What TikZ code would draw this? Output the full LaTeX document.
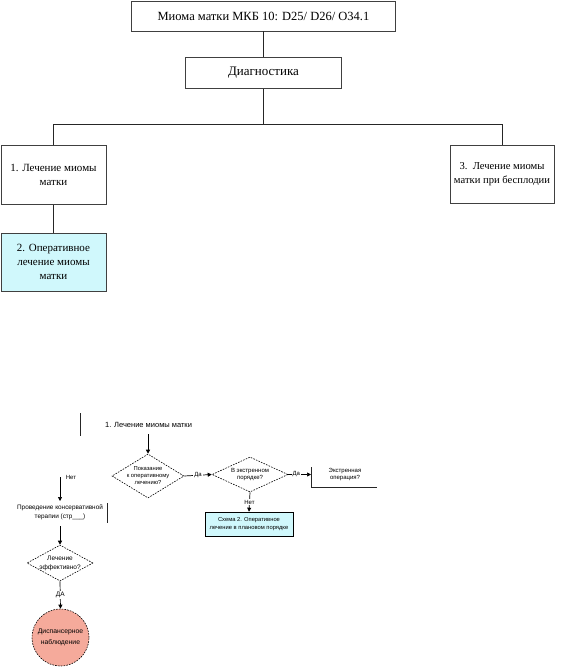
\documentclass[tikz,border=0pt]{standalone}
\usepackage{fontspec}
\setmainfont{Liberation Serif}
\newfontfamily\sansf{Liberation Sans}
\usetikzlibrary{shapes.geometric,arrows.meta}
\definecolor{lcyan}{RGB}{208,248,252}
\definecolor{salmon}{RGB}{245,170,155}
\begin{document}
\begin{tikzpicture}[x=1pt,y=-1pt,
  box/.style={draw=black!75,line width=0.9pt,inner sep=0pt,align=center,font=\fontsize{11}{14}\selectfont},
  ln/.style={draw=black!85,line width=0.8pt},
  dm/.style={diamond,draw=black,dash pattern=on 1.6pt off 1.2pt,line width=0.6pt,inner sep=0pt},
  sm/.style={font=\sansf\fontsize{6}{7}\selectfont,align=center,inner sep=0pt},
  arr/.style={-{Triangle[length=4pt,width=4pt]},line width=0.7pt,draw=black}]
\useasboundingbox (0,0) rectangle (563,668);
\fill[white] (0,0) rectangle (563,668);
% ---------- top scheme ----------
\node[box,minimum width=264,minimum height=30,font=\fontsize{12.5}{14}\selectfont] (mkb) at (263.5,16) {Миома матки МКБ 10: D25/ D26/ O34.1};
\node[box,minimum width=156,minimum height=31,font=\fontsize{13}{14}\selectfont] (diag) at (263.5,73) {Диагностика};
\node[box,minimum width=105,minimum height=59] (l1) at (53.5,175) {1. Лечение миомы\\матки};
\node[box,minimum width=104,minimum height=58,font=\fontsize{10.6}{14}\selectfont] (l3) at (502,174) {3.\enspace Лечение миомы\\матки при бесплодии};
\node[box,fill=lcyan,minimum width=105,minimum height=58] (l2) at (53.5,262) {2. Оперативное\\лечение миомы\\матки};
\coordinate (j) at (263.5,124);
\coordinate (jl) at (53.5,124);
\coordinate (jr) at (502,124);
\draw[ln] (mkb.south) -- (diag.north);
\draw[ln] (diag.south) -- (j);
\draw[ln] (l1.north) -- (jl) -- (jr) -- (l3.north);
\draw[ln] (l1.south) -- (l2.north);
% ---------- bottom scheme ----------
\coordinate (v1a) at (80,413);
\coordinate (v1b) at (80,436);
\draw[ln] (v1a) -- (v1b);
\node[font=\sansf\fontsize{7.5}{9}\selectfont,anchor=west,inner sep=0pt] (t1) at (105,425) {1. Лечение миомы матки};
\coordinate (a1) at (148,434);
\node[dm,minimum width=72,minimum height=44] (d1) at (148,476) {};
\node[sm,font=\sansf\fontsize{5.8}{7}\selectfont] (d1t) at (d1.center) {Показание\\к оперативному\\лечению?};
\draw[arr] (a1) -- (d1.north);
% left branch
\node[sm] (net1) at (71,477) {Нет};
\coordinate (a2) at (60,477);
\coordinate (a2e) at (60,501);
\draw[arr] (a2) -- (a2e);
\node[sm,font=\sansf\fontsize{6.4}{8.5}\selectfont] (kons) at (60,512.5) {Проведение консервативной\\терапии (стр\_\_\_)};
\coordinate (kr1) at (107.5,503);
\coordinate (kr2) at (107.5,523);
\draw[ln] (kr1) -- (kr2);
\coordinate (a3) at (60,526);
\node[dm,minimum width=66,minimum height=36] (d2) at (60,563) {};
\node[sm,font=\sansf\fontsize{6.5}{9}\selectfont] (d2t) at (d2.center) {Лечение\\эффективно?};
\draw[arr] (a3) -- (d2.north);
\node[circle,draw=black,dash pattern=on 1.6pt off 1.2pt,line width=0.6pt,fill=salmon,minimum size=57,inner sep=0pt] (circ) at (60.5,637.5) {};
\node[sm,font=\sansf\fontsize{6.8}{11}\selectfont] (circt) at (circ.center) {Диспансерное\\наблюдение};
\draw[arr] (d2.south) -- node[sm,fill=white,inner sep=1pt,font=\sansf\fontsize{6.5}{8}\selectfont] (da2) {ДА} (circ.north);
% right branch
\node[dm,minimum width=76,minimum height=35] (d3) at (250,474.5) {};
\node[sm] (d3t) at (d3.center) {В экстренном\\порядке?};
\draw[arr] (d1.east) -- node[sm,fill=white,inner sep=1pt] (da1) {Да} (d3.west);
\coordinate (e0) at (311,474.5);
\draw[arr] (d3.east) -- node[sm,fill=white,inner sep=1pt,pos=0.35] (da3) {Да} (e0);
\coordinate (e1) at (311.5,467);
\coordinate (e2) at (311.5,487);
\coordinate (e3) at (377,487);
\draw[ln] (e1) -- (e2) -- (e3);
\node[sm] (ekst) at (345,474.5) {Экстренная\\операция?};
\node[draw=black,line width=0.6pt,fill=lcyan,minimum width=88,minimum height=24,sm,font=\sansf\fontsize{5.8}{7.5}\selectfont] (sch) at (249,524) {Схема 2. Оперативное\\лечение в плановом порядке};
\draw[arr] (d3.south) -- node[sm,fill=white,inner sep=1pt] (net3) {Нет} (sch.north);
\end{tikzpicture}
\end{document}
